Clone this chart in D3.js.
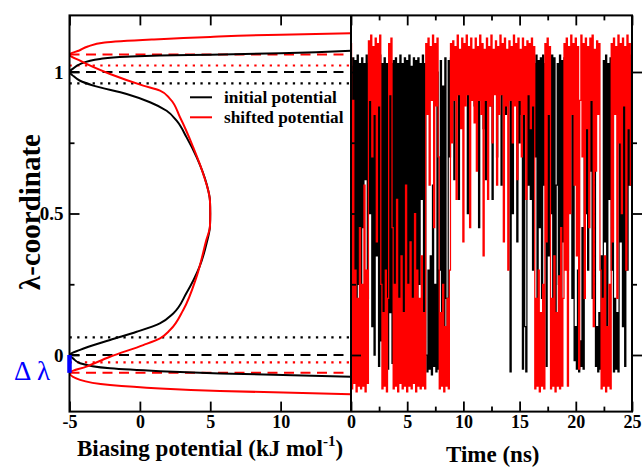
<!DOCTYPE html>
<html><head><meta charset="utf-8">
<script src="https://cdn.jsdelivr.net/npm/d3@7"></script>
<style>
body{margin:0;background:#fff}
svg{display:block}
text{font-family:"Liberation Serif","Times New Roman",serif}
</style>
</head><body>
<svg id="c" width="644" height="468"></svg>
<script>
// ---------- DATA ----------
const potTicks = [-5, 0, 5, 10];
const timeTicks = [0, 5, 10, 15, 20, 25];
const timeMinor = [2.5, 7.5, 12.5, 17.5, 22.5];
const lambdaTicks = [0, 0.5, 1];
const lambdaMinor = [0.25, 0.75];

// initial potential: lambda values and potential (kJ/mol)
const initLambda = [1.075,1.066,1.061,1.058,1.054,1.046,1.028,1.012,1.000,0.985,0.969,0.952,0.922,0.893,0.863,0.828,0.769,0.699,0.604,0.545,0.500,0.455,0.395,0.312,0.218,0.147,0.112,0.082,0.053,0.018,0.000,-0.012,-0.029,-0.047,-0.057,-0.065,-0.077];
const initPot    = [15,10,5,1.4,-0.94,-2.83,-4.25,-4.75,-5,-4.7,-4.25,-3.31,-0.94,0.72,1.90,2.61,3.32,4.03,4.74,4.98,5.0,4.98,4.74,4.24,3.30,2.37,1.42,-0.23,-2.12,-4.25,-5,-4.75,-4.25,-2.12,1.43,5.7,15];
// shifted potential
const shiftLambda = [1.137,1.132,1.124,1.115,1.104,1.090,1.076,1.062,1.040,0.993,0.952,0.934,0.905,0.840,0.734,0.640,0.545,0.500,0.455,0.406,0.277,0.159,0.088,0.059,0.035,-0.006,-0.041,-0.063,-0.088,-0.106,-0.118,-0.127,-0.139];
const shiftPot    = [15,10,5,1,-2.5,-3.7,-4.3,-5,-4.25,-2.12,0.24,1.43,2.14,2.85,3.79,4.50,4.98,5.0,4.98,4.72,4.03,3.08,2.14,1.43,0.24,-2.12,-3.8,-5,-4.25,-2.12,1.43,5.69,15];

// reference lines (lambda)
const blackDashed = [0, 1];
const blackDotted = [0.062, 0.96];
const redDashed = [-0.063, 1.062];
const redDotted = [-0.026, 1.023];
const deltaLambda = [0, -0.063];

// lambda trajectories, one value every 0.1 ns (rows = 1 ns)
const trajInitial = [
 1.02,0.04,1.05,0.10,1.04,-0.03,1.06,0.25,1.03,0.02,
 1.05,0.45,1.03,0.62,1.06,0.20,1.03,0.50,1.04,0.10,
 1.05,0.00,1.02,0.35,1.04,-0.04,1.06,0.05,1.03,-0.05,
 1.05,0.02,1.03,-0.05,1.06,0.15,1.03,-0.03,1.04,0.05,
 1.05,-0.02,1.03,0.08,1.06,-0.04,1.03,0.12,1.05,0.00,
 1.04,-0.03,1.06,0.06,1.02,-0.02,1.05,0.20,1.04,-0.04,
 1.05,0.25,1.03,0.55,1.06,0.12,1.03,0.00,-0.06,0.30,
 -0.05,0.35,-0.07,0.60,-0.04,0.25,-0.06,1.00,-0.05,0.30,
 1.04,-0.06,0.95,-0.04,1.05,0.20,-0.06,1.04,0.70,1.05,
 0.98,1.05,0.62,1.04,0.92,1.05,0.55,1.03,0.95,1.05,
 0.90,1.04,0.97,1.05,0.50,1.04,0.93,1.05,0.98,1.03,
 0.88,1.05,0.97,1.04,0.45,1.05,0.95,1.03,0.80,1.05,
 0.62,1.04,0.96,1.05,0.88,1.03,0.55,1.05,0.94,1.04,
 0.70,1.05,0.97,1.04,0.60,1.05,0.92,1.04,0.85,1.05,
 0.90,1.04,-0.06,1.05,0.50,1.04,0.95,1.05,0.40,1.03,
 0.75,1.05,0.85,-0.05,1.04,0.10,-0.06,1.05,0.60,1.04,
 0.55,1.05,0.30,1.03,0.70,1.06,0.15,1.04,0.45,1.05,
 0.20,1.06,0.60,1.03,-0.04,1.05,0.35,1.04,0.50,1.06,
 0.10,1.05,-0.03,0.60,1.03,0.25,1.06,0.05,1.04,0.40,
 1.05,0.70,1.03,0.30,1.06,0.85,1.04,0.20,1.05,-0.02,
 0.10,-0.05,0.30,-0.06,0.05,-0.04,0.45,-0.05,1.04,0.50,
 1.05,0.30,1.03,0.65,1.06,0.20,1.03,0.75,-0.04,0.10,
 -0.06,0.15,-0.05,0.35,-0.06,1.04,0.40,1.06,0.10,1.03,
 0.55,1.05,0.30,1.04,-0.06,0.20,-0.05,0.15,-0.06,1.04,
 0.40,1.06,0.10,1.03,-0.04,1.05,0.30,1.04,0.60,1.06
];
const trajShifted = [
 1.10,-0.12,0.90,-0.10,0.30,-0.13,0.20,-0.11,0.45,-0.12,
 0.25,-0.11,0.60,-0.13,0.30,-0.10,1.11,0.90,1.13,0.70,
 1.09,0.85,1.12,0.40,1.10,0.88,1.13,0.25,-0.12,0.15,
 -0.11,0.30,-0.13,0.20,1.10,0.92,1.12,0.45,-0.12,0.25,
 -0.11,0.55,-0.13,0.20,-0.10,0.35,-0.12,0.15,-0.11,0.60,
 -0.13,0.25,-0.11,0.40,-0.12,0.20,-0.10,0.50,-0.13,0.30,
 -0.11,0.20,-0.12,0.35,-0.11,0.15,-0.12,1.10,0.85,1.12,
 0.60,1.09,0.90,1.13,0.45,1.10,0.88,1.12,0.70,-0.12,
 0.15,-0.11,0.25,-0.13,0.10,-0.11,0.20,-0.12,0.30,1.10,
 0.75,1.11,0.90,1.09,0.55,1.13,0.92,1.08,0.80,1.12,
 0.40,1.10,0.88,1.13,0.92,1.09,0.45,1.12,0.90,1.08,
 0.82,1.12,0.65,1.09,0.90,1.13,0.85,1.10,0.35,1.08,
 0.90,1.12,0.55,1.09,0.88,1.13,0.75,1.08,0.92,1.11,
 0.60,1.09,0.85,1.13,0.92,1.10,0.40,1.12,0.88,1.08,
 0.30,1.11,0.90,1.09,0.75,1.13,0.88,1.10,0.62,1.12,
 0.90,1.08,0.70,1.12,0.85,1.09,0.55,1.11,0.92,1.10,
 0.80,1.12,0.88,1.09,-0.12,0.20,-0.11,0.30,-0.13,0.15,
 -0.11,0.25,-0.12,1.10,0.40,1.12,0.85,1.09,-0.12,0.20,
 -0.11,0.35,-0.13,0.15,-0.11,0.28,-0.12,0.45,-0.11,0.20,
 1.10,0.30,1.12,-0.11,1.09,0.50,1.13,0.85,1.10,0.60,
 1.12,0.35,1.09,-0.05,0.90,1.13,0.70,1.10,0.20,1.12,
 0.80,1.09,0.45,1.12,0.90,1.13,0.10,1.08,0.65,1.11,
 0.85,1.10,0.30,-0.12,0.20,-0.11,0.35,-0.13,0.10,-0.11,
 0.25,-0.12,1.10,0.40,1.12,0.85,1.09,0.20,1.13,0.75,
 1.10,0.50,1.12,0.88,1.09,0.30,1.13,0.80,1.10,0.60
];
const timeStep = 0.1;

// ---------- DRAW ----------
const FONT = '"Liberation Serif","Times New Roman",serif';
const svg = d3.select('#c');
const xPot = d3.scaleLinear().domain([-5, 15]).range([69.5, 351]);
const xTime = d3.scaleLinear().domain([0, 25]).range([351, 632]);
const y = d3.scaleLinear().domain([-0.2, 1.2]).range([411.6, 15.4]);

svg.append('rect').attr('width',644).attr('height',468).attr('fill','#fff');

const defs = svg.append('defs');
defs.append('clipPath').attr('id','clipL').append('rect')
  .attr('x',xPot(-5)).attr('y',y(1.2)).attr('width',xPot(15)-xPot(-5)).attr('height',y(-0.2)-y(1.2));
defs.append('clipPath').attr('id','clipR').append('rect')
  .attr('x',xTime(0)).attr('y',y(1.2)).attr('width',xTime(25)-xTime(0)).attr('height',y(-0.2)-y(1.2));

const gL = svg.append('g').attr('clip-path','url(#clipL)');
function hline(vals, color, dash, w){
  gL.selectAll(null).data(vals).enter().append('line')
    .attr('x1',xPot(-5)).attr('x2',xPot(15))
    .attr('y1',d=>y(d)).attr('y2',d=>y(d))
    .attr('stroke',color).attr('stroke-width',w).attr('stroke-dasharray',dash);
}
hline(blackDotted,'#000','2.3,5.4',2.2);
hline(redDotted,'#f00','2.3,5.4',2.2);
hline(blackDashed,'#000','10,6.5',2);
hline(redDashed,'#f00','10,6.5',2);

const curve = d3.line().x(d=>xPot(d[1])).y(d=>y(d[0])).curve(d3.curveMonotoneY);
gL.append('path').attr('d',curve(d3.zip(initLambda,initPot)))
  .attr('fill','none').attr('stroke','#000').attr('stroke-width',2);
gL.append('path').attr('d',curve(d3.zip(shiftLambda,shiftPot)))
  .attr('fill','none').attr('stroke','#f00').attr('stroke-width',2);

// trajectories
const gR = svg.append('g').attr('clip-path','url(#clipR)');
const tl = d3.line().x((d,i)=>xTime(i*timeStep)).y(d=>y(d)).curve(d3.curveStep);
gR.append('path').attr('d',tl(trajInitial)).attr('fill','none').attr('stroke','#000').attr('stroke-width',1.25);
gR.append('path').attr('d',tl(trajShifted)).attr('fill','none').attr('stroke','#f00').attr('stroke-width',1.25);

// frames
svg.append('rect').attr('x',xPot(-5)).attr('y',y(1.2)).attr('width',xTime(25)-xPot(-5)).attr('height',y(-0.2)-y(1.2))
  .attr('fill','none').attr('stroke','#000').attr('stroke-width',2);
svg.append('line').attr('x1',xTime(0)).attr('x2',xTime(0)).attr('y1',y(1.2)).attr('y2',y(-0.2))
  .attr('stroke','#000').attr('stroke-width',2);

// axes
function styleAxis(g, fs){
  g.select('.domain').remove();
  g.attr('font-family',FONT);
  g.selectAll('line').attr('stroke','#000').attr('stroke-width',1.8);
  g.selectAll('text').style('font-size',fs+'px').style('font-weight','bold').attr('fill','#000');
}
const fmt = d => String(d);
// left panel x
svg.append('g').attr('transform',`translate(0,${y(-0.2)})`)
  .call(d3.axisBottom(xPot).tickValues(potTicks).tickSize(-10).tickPadding(4).tickFormat(fmt))
  .call(g=>styleAxis(g,18));
svg.append('g').attr('transform',`translate(0,${y(1.2)})`)
  .call(d3.axisTop(xPot).tickValues(potTicks).tickSize(-10).tickFormat(''))
  .call(g=>styleAxis(g,18));
// right panel x
svg.append('g').attr('transform',`translate(0,${y(-0.2)})`)
  .call(d3.axisBottom(xTime).tickValues(timeTicks).tickSize(-10).tickPadding(4).tickFormat(fmt))
  .call(g=>styleAxis(g,18));
svg.append('g').attr('transform',`translate(0,${y(-0.2)})`)
  .call(d3.axisBottom(xTime).tickValues(timeMinor).tickSize(-5).tickFormat(''))
  .call(g=>styleAxis(g,18));
svg.append('g').attr('transform',`translate(0,${y(1.2)})`)
  .call(d3.axisTop(xTime).tickValues(timeTicks).tickSize(-10).tickFormat(''))
  .call(g=>styleAxis(g,18));
svg.append('g').attr('transform',`translate(0,${y(1.2)})`)
  .call(d3.axisTop(xTime).tickValues(timeMinor).tickSize(-5).tickFormat(''))
  .call(g=>styleAxis(g,18));
// y axes
svg.append('g').attr('transform',`translate(${xPot(-5)},0)`)
  .call(d3.axisLeft(y).tickValues(lambdaTicks).tickSize(-10).tickPadding(6).tickFormat(fmt))
  .call(g=>styleAxis(g,19));
svg.append('g').attr('transform',`translate(${xPot(-5)},0)`)
  .call(d3.axisLeft(y).tickValues(lambdaMinor).tickSize(-5).tickFormat(''))
  .call(g=>styleAxis(g,19));
[[xTime(0),d3.axisRight],[xTime(25),d3.axisLeft]].forEach(([xx,ax])=>{
  svg.append('g').attr('transform',`translate(${xx},0)`)
    .call(ax(y).tickValues(lambdaTicks).tickSize(ax===d3.axisRight?10:-10).tickFormat(''))
    .call(g=>styleAxis(g,19));
  svg.append('g').attr('transform',`translate(${xx},0)`)
    .call(ax(y).tickValues(lambdaMinor).tickSize(ax===d3.axisRight?5:-5).tickFormat(''))
    .call(g=>styleAxis(g,19));
});

// delta lambda bar
svg.append('line').attr('x1',xPot(-5)).attr('x2',xPot(-5))
  .attr('y1',y(deltaLambda[0])).attr('y2',y(deltaLambda[1]))
  .attr('stroke','#0000ff').attr('stroke-width',4.5);
const dl = svg.append('text').attr('y',380).attr('fill','#0000ff')
  .style('font-size','27px').style('font-weight','normal');
dl.append('tspan').attr('x',14).text('Δ');
dl.append('tspan').attr('x',37).text('λ');

// axis titles
const xt = svg.append('text').attr('x',77).attr('y',456).style('font-size','23px').style('font-weight','bold');
xt.append('tspan').text('Biasing potential (kJ mol');
xt.append('tspan').style('font-size','15px').attr('dy',-10).text('-1');
xt.append('tspan').attr('dy',10).text(')');
svg.append('text').attr('x',446).attr('y',462).style('font-size','23px').style('font-weight','bold').text('Time (ns)');
svg.append('text').attr('transform','translate(40,290) rotate(-90)').style('font-size','29px').style('font-weight','bold').text('λ-coordinate');

// legend
const legend = [['initial potential','#000'],['shifted potential','#f00']];
legend.forEach((d,i)=>{
  svg.append('line').attr('x1',190).attr('x2',212).attr('y1',97.3+20*i).attr('y2',97.3+20*i)
    .attr('stroke',d[1]).attr('stroke-width',2);
  svg.append('text').attr('x',224).attr('y',102.5+20*i).style('font-size','17.3px').style('font-weight','bold').text(d[0]);
});
</script>
</body></html>
